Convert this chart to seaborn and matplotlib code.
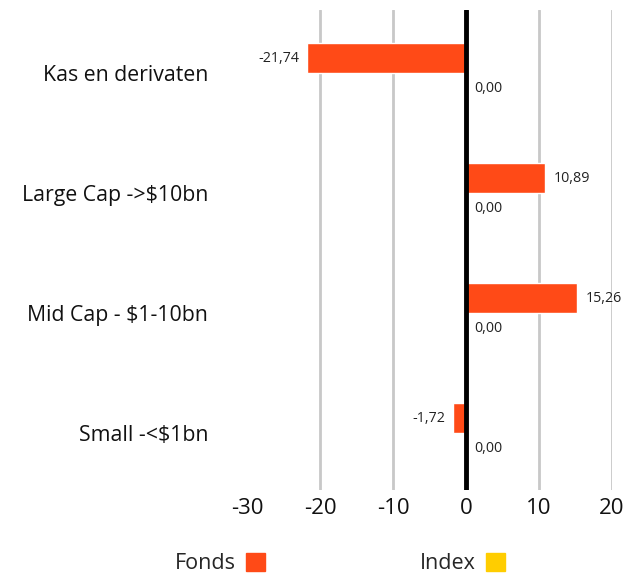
import matplotlib
matplotlib.use("Agg")
import matplotlib.pyplot as plt
import matplotlib.patches as mpatches
import pandas as pd
import seaborn as sns

# data
categories = ["Kas en derivaten", "Large Cap ->$10bn", "Mid Cap - $1-10bn", "Small -<$1bn"]
fonds = [-21.74, 10.89, 15.26, -1.72]
index = [0.00, 0.00, 0.00, 0.00]
series = ["Fonds", "Index"]
colors = {"Fonds": "#ff4a17", "Index": "#ffcd00"}
xticks = [-30, -20, -10, 0, 10, 20]

df = pd.DataFrame({
    "category": categories * 2,
    "value": fonds + index,
    "series": ["Fonds"] * len(categories) + ["Index"] * len(categories),
})

sns.set_style("white")
plt.rcParams["font.family"] = ["Open Sans", "DejaVu Sans"]
plt.rcParams["axes.unicode_minus"] = False

fig = plt.figure(figsize=(6.36, 5.76), dpi=100)
ax = fig.add_axes([247 / 636, 1 - 490 / 576, (612 - 247) / 636, 480 / 576])

sns.barplot(data=df, y="category", x="value", hue="series", hue_order=series,
            order=categories, palette=colors, orient="h", width=0.5,
            legend=False, ax=ax, saturation=1)

for cont in ax.containers:
    labels = [f"{v:.2f}".replace(".", ",") for v in cont.datavalues]
    ax.bar_label(cont, labels=labels, padding=6, fontsize=10.3, color="#222222")

ax.set_xlim(-30, 20)
ax.set_ylim(3.475, -0.525)
ax.set_xticks(xticks)
ax.xaxis.grid(True, color="#c8c8c8", linewidth=2)
ax.set_axisbelow(True)
ax.get_xgridlines()[0].set_visible(False)
ax.axvline(0, color="black", linewidth=3.5, zorder=5)

for s in ax.spines.values():
    s.set_visible(False)
ax.set_xlabel("")
ax.set_ylabel("")
ax.tick_params(axis="x", labelsize=16, length=0, pad=6, colors="#111111")
ax.tick_params(axis="y", labelsize=15.3, length=0, pad=28, colors="#111111")

handles = [mpatches.Patch(color=colors[s], label=s) for s in series]
fig.legend(handles=handles, loc="center", bbox_to_anchor=(0.535, 0.022), ncol=2,
           frameon=False, markerfirst=False, fontsize=15.5, handlelength=0.9,
           handleheight=0.9, handletextpad=0.45, columnspacing=7.2)

fig.savefig("out.png", dpi=100)
